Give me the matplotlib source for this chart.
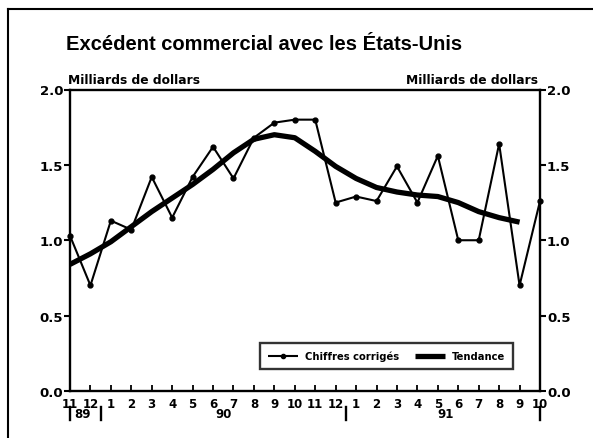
import matplotlib
matplotlib.use("Agg")
import matplotlib.pyplot as plt
from matplotlib.lines import Line2D
import numpy as np

plt.rcParams['font.family'] = ['DejaVu Sans']
plt.rcParams['font.weight'] = 'bold'

month_labels = ['11', '12', '1', '2', '3', '4', '5', '6', '7', '8', '9', '10', '11', '12',
                '1', '2', '3', '4', '5', '6', '7', '8', '9', '10']
chiffres = [1.03, 0.70, 1.13, 1.07, 1.42, 1.15, 1.42, 1.62, 1.41, 1.68, 1.78, 1.80,
            1.80, 1.25, 1.29, 1.26, 1.49, 1.25, 1.56, 1.00, 1.00, 1.64, 0.70, 1.26]
tendance = [0.84, 0.91, 0.99, 1.09, 1.19, 1.28, 1.37, 1.47, 1.58, 1.67, 1.70, 1.68,
            1.59, 1.49, 1.41, 1.35, 1.32, 1.30, 1.29, 1.25, 1.19, 1.15, 1.12]
year_labels = ['89', '90', '91']
year_label_pos = [0.6, 7.5, 18.4]
year_sep_pos = [0, 1.5, 13.5, 23]
yticks = [0.0, 0.5, 1.0, 1.5, 2.0]

W, H = 593, 439
fig = plt.figure(figsize=(W / 100, H / 100), dpi=100)
ax = fig.add_axes([70 / W, 1 - 392 / H, 470 / W, 301.5 / H])

x = np.arange(len(chiffres))
xt = np.arange(len(tendance))
ax.plot(xt, tendance, color='black', lw=3.8, solid_capstyle='butt', solid_joinstyle='round',
        label='Tendance', zorder=3)
ax.plot(x, chiffres, color='black', lw=1.5, marker='o', ms=3.5, label='Chiffres corrigés',
        zorder=4, clip_on=False)

ax.set_xlim(0, len(chiffres) - 1)
ax.set_ylim(0, 2.0)

for s in ax.spines.values():
    s.set_linewidth(1.7)

ax.set_yticks(yticks)
ax.set_yticklabels([f'{v:.1f}' for v in yticks])
ax.tick_params(axis='y', which='both', left=True, right=True, labelleft=True, labelright=True,
               direction='out', length=4, width=1.5, labelsize=9.5, pad=1)
ax.set_xticks(x)
ax.set_xticklabels(month_labels)
ax.tick_params(axis='x', direction='in', length=4, width=1.3, labelsize=8.5, pad=4)
for lab in ax.get_xticklabels() + ax.get_yticklabels():
    lab.set_fontweight('bold')

# year separators and labels
trans = ax.get_xaxis_transform()
for p in year_sep_pos:
    ax.plot([p, p], [-0.052, -0.097], transform=trans, color='black', lw=1.7, clip_on=False)
for lab, p in zip(year_labels, year_label_pos):
    ax.text(p, -0.075, lab, transform=trans, ha='center', va='center', fontsize=8.5,
            fontweight='bold')

# legend
handles = [Line2D([], [], color='black', lw=1.5, marker='o', ms=3, solid_capstyle='butt'),
           Line2D([], [], color='black', lw=3.8, solid_capstyle='butt')]
leg = ax.legend(handles, ['Chiffres corrigés', 'Tendance'], loc='lower left',
                bbox_to_anchor=((255 - 70) / 470, (392 - 375) / 301.5,
                                (518 - 255) / 470, (375 - 342) / 301.5),
                mode='expand', ncol=2, frameon=True, fancybox=False,
                handlelength=3.0, borderpad=0.8, columnspacing=2.0, handletextpad=0.7,
                prop={'weight': 'bold', 'size': 7.2})
leg.get_frame().set_edgecolor('black')
leg.get_frame().set_linewidth(1.7)

# units labels
fig.text(68 / W, 1 - 80 / H, 'Milliards de dollars', ha='left', va='center', fontsize=8.8,
         fontweight='bold')
fig.text(538 / W, 1 - 80 / H, 'Milliards de dollars', ha='right', va='center', fontsize=8.8,
         fontweight='bold')

# title
fig.text(264 / W, 1 - 44 / H, 'Excédent commercial avec les États-Unis', ha='center',
         va='center', fontsize=14.5, fontweight='bold', family=['Liberation Sans'])

# outer frame
fig.add_artist(Line2D([8 / W, 8 / W], [0, 1 - 10 / H], transform=fig.transFigure,
                      color='black', lw=1.5))
fig.add_artist(Line2D([8 / W, 1], [1 - 10 / H, 1 - 10 / H], transform=fig.transFigure,
                      color='black', lw=1.5))

fig.savefig('out.png', dpi=100)
